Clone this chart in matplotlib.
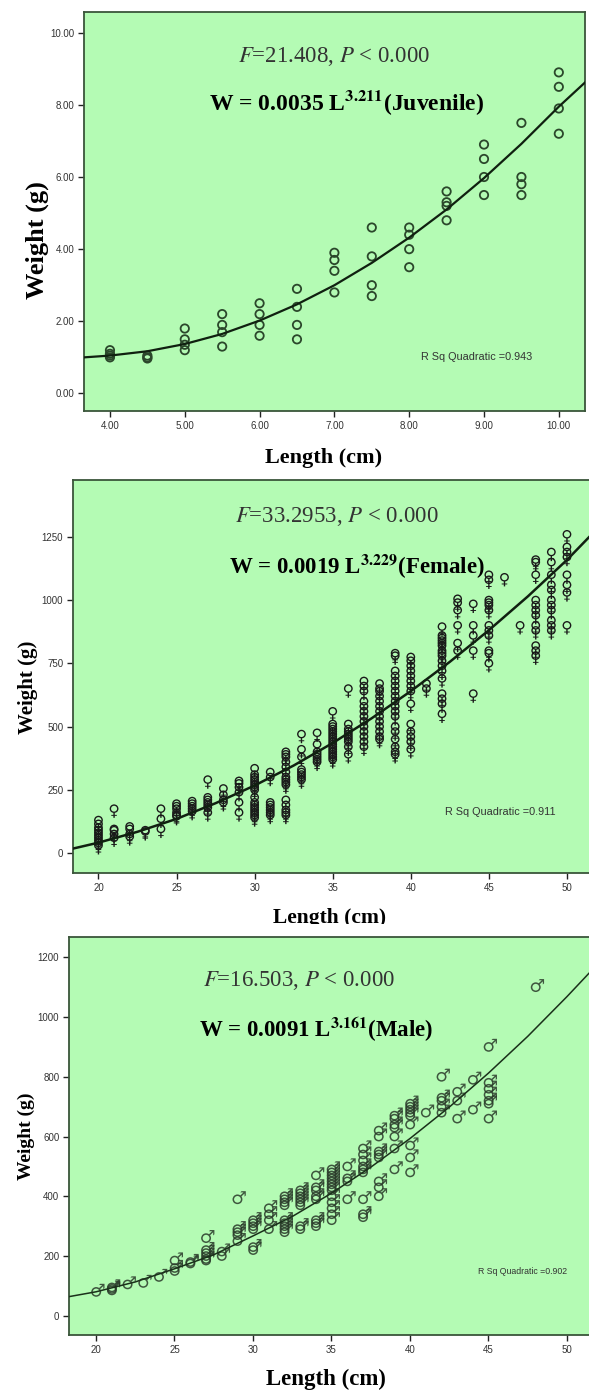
import numpy as np
import matplotlib
matplotlib.use('Agg')
import matplotlib.pyplot as plt
from matplotlib.path import Path
from matplotlib.textpath import TextPath
from matplotlib.font_manager import FontProperties
from matplotlib.patches import Rectangle

plt.rcParams['font.family'] = 'Liberation Sans'
plt.rcParams['mathtext.fontset'] = 'stix'

# ---------------- data ----------------
# juvenile: length (cm) and the weights (g) plotted at each length
juv_len = [4.0, 4.5, 5.0, 5.5, 6.0, 6.5, 7.0, 7.5, 8.0, 8.5, 9.0, 9.5, 10.0]
juv_wt = [[1.2, 1.1, 1.0, 1.05], [1.05, 1.0, 0.97], [1.8, 1.5, 1.35, 1.2],
          [2.2, 1.9, 1.7, 1.3], [2.5, 2.2, 1.9, 1.6], [2.9, 2.4, 1.9, 1.5],
          [3.9, 3.7, 3.4, 2.8], [4.6, 3.8, 3.0, 2.7], [4.6, 4.4, 4.0, 3.5],
          [5.6, 5.3, 5.2, 4.8], [6.9, 6.5, 6.0, 5.5], [7.5, 6.0, 5.8, 5.5],
          [8.9, 8.5, 7.9, 7.2]]
juv_fit_x = [3.65, 4.0, 4.5, 5.0, 5.5, 6.0, 6.5, 7.0, 7.5, 8.0, 8.5, 9.0, 9.5, 10.0, 10.35]
juv_fit_y = [1.00, 1.05, 1.17, 1.37, 1.65, 2.02, 2.47, 3.00, 3.62, 4.32, 5.10, 5.97, 6.92, 7.95, 8.62]

fem_len = [20, 21, 22, 23, 24, 25, 26, 27, 28, 29, 30, 31, 32, 33, 34, 35, 36, 37,
           38, 39, 40, 41, 42, 43, 44, 45, 46, 47, 48, 49, 50]
fem_wt = [[130, 115, 100, 90, 80, 70, 60, 50, 40, 30],
          [175, 95, 90, 75, 60],
          [105, 95, 75, 65],
          [90, 85],
          [175, 135, 95],
          [195, 185, 175, 160, 150, 145],
          [205, 195, 185, 175, 165],
          [290, 220, 210, 200, 190, 180, 160],
          [255, 230, 210, 200],
          [285, 275, 260, 240, 200, 160],
          [335, 310, 300, 290, 280, 270, 260, 250, 220, 200, 190, 180, 170, 160, 150, 140],
          [320, 300, 200, 190, 180, 170, 160, 150],
          [400, 390, 380, 360, 340, 320, 300, 290, 280, 270, 210, 190, 170, 160, 150],
          [470, 410, 380, 330, 320, 310, 300, 290],
          [475, 430, 400, 390, 380, 370, 360],
          [560, 510, 500, 490, 480, 470, 460, 450, 440, 430, 420, 410, 400, 390, 380, 370],
          [650, 510, 490, 480, 470, 460, 450, 440, 420, 390],
          [680, 660, 640, 600, 580, 560, 540, 520, 500, 480, 460, 440, 420],
          [670, 650, 640, 620, 600, 580, 560, 540, 520, 500, 480, 460, 450],
          [790, 780, 720, 700, 680, 660, 640, 620, 600, 580, 560, 540, 500, 480, 450, 420, 400, 390],
          [775, 760, 740, 720, 700, 680, 660, 640, 590, 510, 480, 460, 440, 410],
          [650, 670],
          [895, 860, 850, 840, 830, 820, 800, 790, 780, 760, 740, 720, 690, 630, 610, 590, 550],
          [1005, 990, 960, 900, 830, 800],
          [985, 900, 860, 800, 630],
          [1100, 1080, 1000, 990, 980, 960, 900, 880, 860, 800, 790, 750],
          [1090],
          [900],
          [1160, 1150, 1100, 1000, 980, 960, 940, 900, 880, 820, 800, 780],
          [1190, 1150, 1100, 1060, 1040, 1000, 980, 960, 920, 900, 880],
          [1260, 1210, 1190, 1170, 1100, 1060, 1030, 900]]
fem_fit_x = [18.4, 20, 22.5, 25, 27.5, 30, 32.5, 35, 37.5, 40, 42.5, 45, 47.5, 50, 51.9]
fem_fit_y = [18, 41, 84, 135, 197, 267, 346, 435, 533, 640, 756, 881, 1015, 1159, 1280]

male_len = [20, 21, 22, 23, 24, 25, 26, 27, 28, 29, 30, 31, 32, 33, 34, 35, 36, 37,
            38, 39, 40, 41, 42, 43, 44, 45, 48]
male_wt = [[80], [95, 85, 90], [105], [110], [130], [185, 160, 150], [175, 180],
           [260, 220, 210, 200, 190, 185], [215, 200], [390, 290, 280, 270, 250],
           [320, 310, 300, 290, 230, 220], [360, 340, 320, 290],
           [400, 390, 380, 370, 320, 310, 300, 290, 280],
           [420, 410, 400, 390, 380, 370, 300, 290],
           [470, 430, 420, 400, 390, 320, 310, 300],
           [490, 480, 470, 460, 450, 440, 430, 420, 400, 380, 360, 340, 320],
           [500, 460, 450, 390],
           [560, 540, 520, 500, 490, 480, 390, 340, 330],
           [620, 600, 550, 540, 530, 450, 430, 400],
           [670, 660, 640, 630, 600, 560, 490],
           [710, 700, 690, 680, 670, 640, 570, 530, 480],
           [680], [800, 730, 720, 700, 680], [750, 720, 660], [790, 690],
           [900, 780, 760, 740, 720, 710, 660], [1100]]
male_fit_x = [18.3, 20, 22.5, 25, 27.5, 30, 32.5, 35, 37.5, 40, 42.5, 45, 47.5, 50, 51.9]
male_fit_y = [65, 81, 114, 158, 205, 268, 333, 411, 498, 594, 699, 813, 936, 1069, 1175]

# ---------------- styling ----------------
W, H = 589, 1396
bg = '#b4fbb4'
edge = '#3a553a'
ink = '#333333'

fig = plt.figure(figsize=(W / 100, H / 100), dpi=100)


def axes_px(left, top, right, bottom):
    return fig.add_axes([left / W, 1 - bottom / H, (right - left) / W, (bottom - top) / H])


def ftext(x, y, s, **kw):
    fig.text(x / W, 1 - y / H, s, ha='center', va='center', **kw)


def glyph(ch, circle_at_top):
    tp = TextPath((0, 0), ch, size=10, prop=FontProperties(family='DejaVu Sans'))
    v = tp.vertices.copy()
    codes = tp.codes
    ok = codes != Path.CLOSEPOLY
    x0, y0 = v[ok].min(axis=0)
    x1, y1 = v[ok].max(axis=0)
    if circle_at_top:
        c = np.array([(x0 + x1) / 2, y1 - (x1 - x0) / 2])
    else:
        c = np.array([x0 + 0.36 * (x1 - x0), y0 + 0.36 * (y1 - y0)])
    v[~ok] = c
    return Path(v - c, codes)


female = glyph('\u2640', True)
male = glyph('\u2642', False)


def style(ax, xlim, ylim, xticks, yticks, fmt):
    ax.set_facecolor(bg)
    ax.set_xlim(xlim)
    ax.set_ylim(ylim)
    ax.set_xticks(xticks)
    ax.set_yticks(yticks)
    ax.set_xticklabels([fmt % t for t in xticks])
    ax.set_yticklabels([fmt % t for t in yticks])
    for sp in ax.spines.values():
        sp.set_color(edge)
        sp.set_linewidth(1.3)
    ax.tick_params(direction='out', length=4, width=1, color='#222222',
                   labelsize=7, labelcolor=ink, pad=3)


def expand(lengths, groups):
    xs = np.repeat(lengths, [len(g) for g in groups])
    ys = np.concatenate([np.asarray(g, float) for g in groups])
    return xs, ys


# ---- juvenile panel ----
ax1 = axes_px(84, 12.5, 585, 411.5)
style(ax1, (3.653, 10.35), (-0.5, 10.56), np.arange(4, 10.01, 1.0),
      np.arange(0, 10.01, 2.0), '%.2f')
x, y = expand(juv_len, juv_wt)
ax1.scatter(x, y, s=36, facecolors='none', edgecolors='#2b472b', linewidths=1.3, zorder=3)
ax1.plot(juv_fit_x, juv_fit_y, color='#102010', lw=1.6, zorder=4)

# ---- female panel ----
ax2 = axes_px(73, 480, 596, 873)
style(ax2, (18.37, 51.86), (-79, 1475), np.arange(20, 51, 5),
      np.arange(0, 1251, 250), '%d')
x, y = expand(fem_len, fem_wt)
ax2.scatter(x, y, s=170, marker=female, facecolors='#1a1a1a', edgecolors='none', zorder=3)
ax2.plot(fem_fit_x, fem_fit_y, color='#102010', lw=1.8, zorder=4)

# ---- male panel ----
ax3 = axes_px(69, 937, 596, 1335)
style(ax3, (18.28, 51.85), (-63.6, 1268.6), np.arange(20, 51, 5),
      np.arange(0, 1201, 200), '%d')
x, y = expand(male_len, male_wt)
ax3.scatter(x, y, s=150, marker=male, facecolors='#2a3a2a', edgecolors='none',
            alpha=0.85, zorder=3)
ax3.plot(male_fit_x, male_fit_y, color='#1a301a', lw=1.1, zorder=4)

# ---------------- texts ----------------
serif = 'Liberation Serif'
ftext(334, 57, r'$F$=21.408, $P$ < 0.000', family=serif, size=16.5, color=ink)
ftext(346, 103, r'W = 0.0035 L$^{\mathbf{3.211}}$(Juvenile)', family=serif,
      weight='bold', size=17, color='black')
ftext(477, 357, 'R Sq Quadratic =0.943', size=7.8, color=ink)
ftext(37, 240, 'Weight (g)', rotation=90, family=serif, weight='bold', size=19)
ftext(324, 458, 'Length (cm)', family=serif, weight='bold', size=16)

ftext(337, 517, r'$F$=33.2953, $P$ < 0.000', family=serif, size=16.5, color=ink)
ftext(357, 567, r'W = 0.0019 L$^{\mathbf{3.229}}$(Female)', family=serif,
      weight='bold', size=16.5, color='black')
ftext(500, 812, 'R Sq Quadratic =0.911', size=7.8, color=ink)
ftext(28, 687, 'Weight (g)', rotation=90, family=serif, weight='bold', size=15)
ftext(330, 918, 'Length (cm)', family=serif, weight='bold', size=15.5)

ftext(299, 980, r'$F$=16.503, $P$ < 0.000', family=serif, size=16.5, color=ink)
ftext(316, 1030, r'W = 0.0091 L$^{\mathbf{3.161}}$(Male)', family=serif,
      weight='bold', size=16.5, color='black')
ftext(523, 1272, 'R Sq Quadratic =0.902', size=6.3, color=ink)
ftext(26, 1136, 'Weight (g)', rotation=90, family=serif, weight='bold', size=14)
ftext(326, 1379, 'Length (cm)', family=serif, weight='bold', size=16.5)

# the female x label is cut off by the male panel in the source picture
fig.add_artist(Rectangle((0, 1 - 936 / H), 1, 12 / H, transform=fig.transFigure,
                         facecolor='white', edgecolor='none', zorder=10))

fig.savefig('out.png', dpi=100, facecolor='white')
